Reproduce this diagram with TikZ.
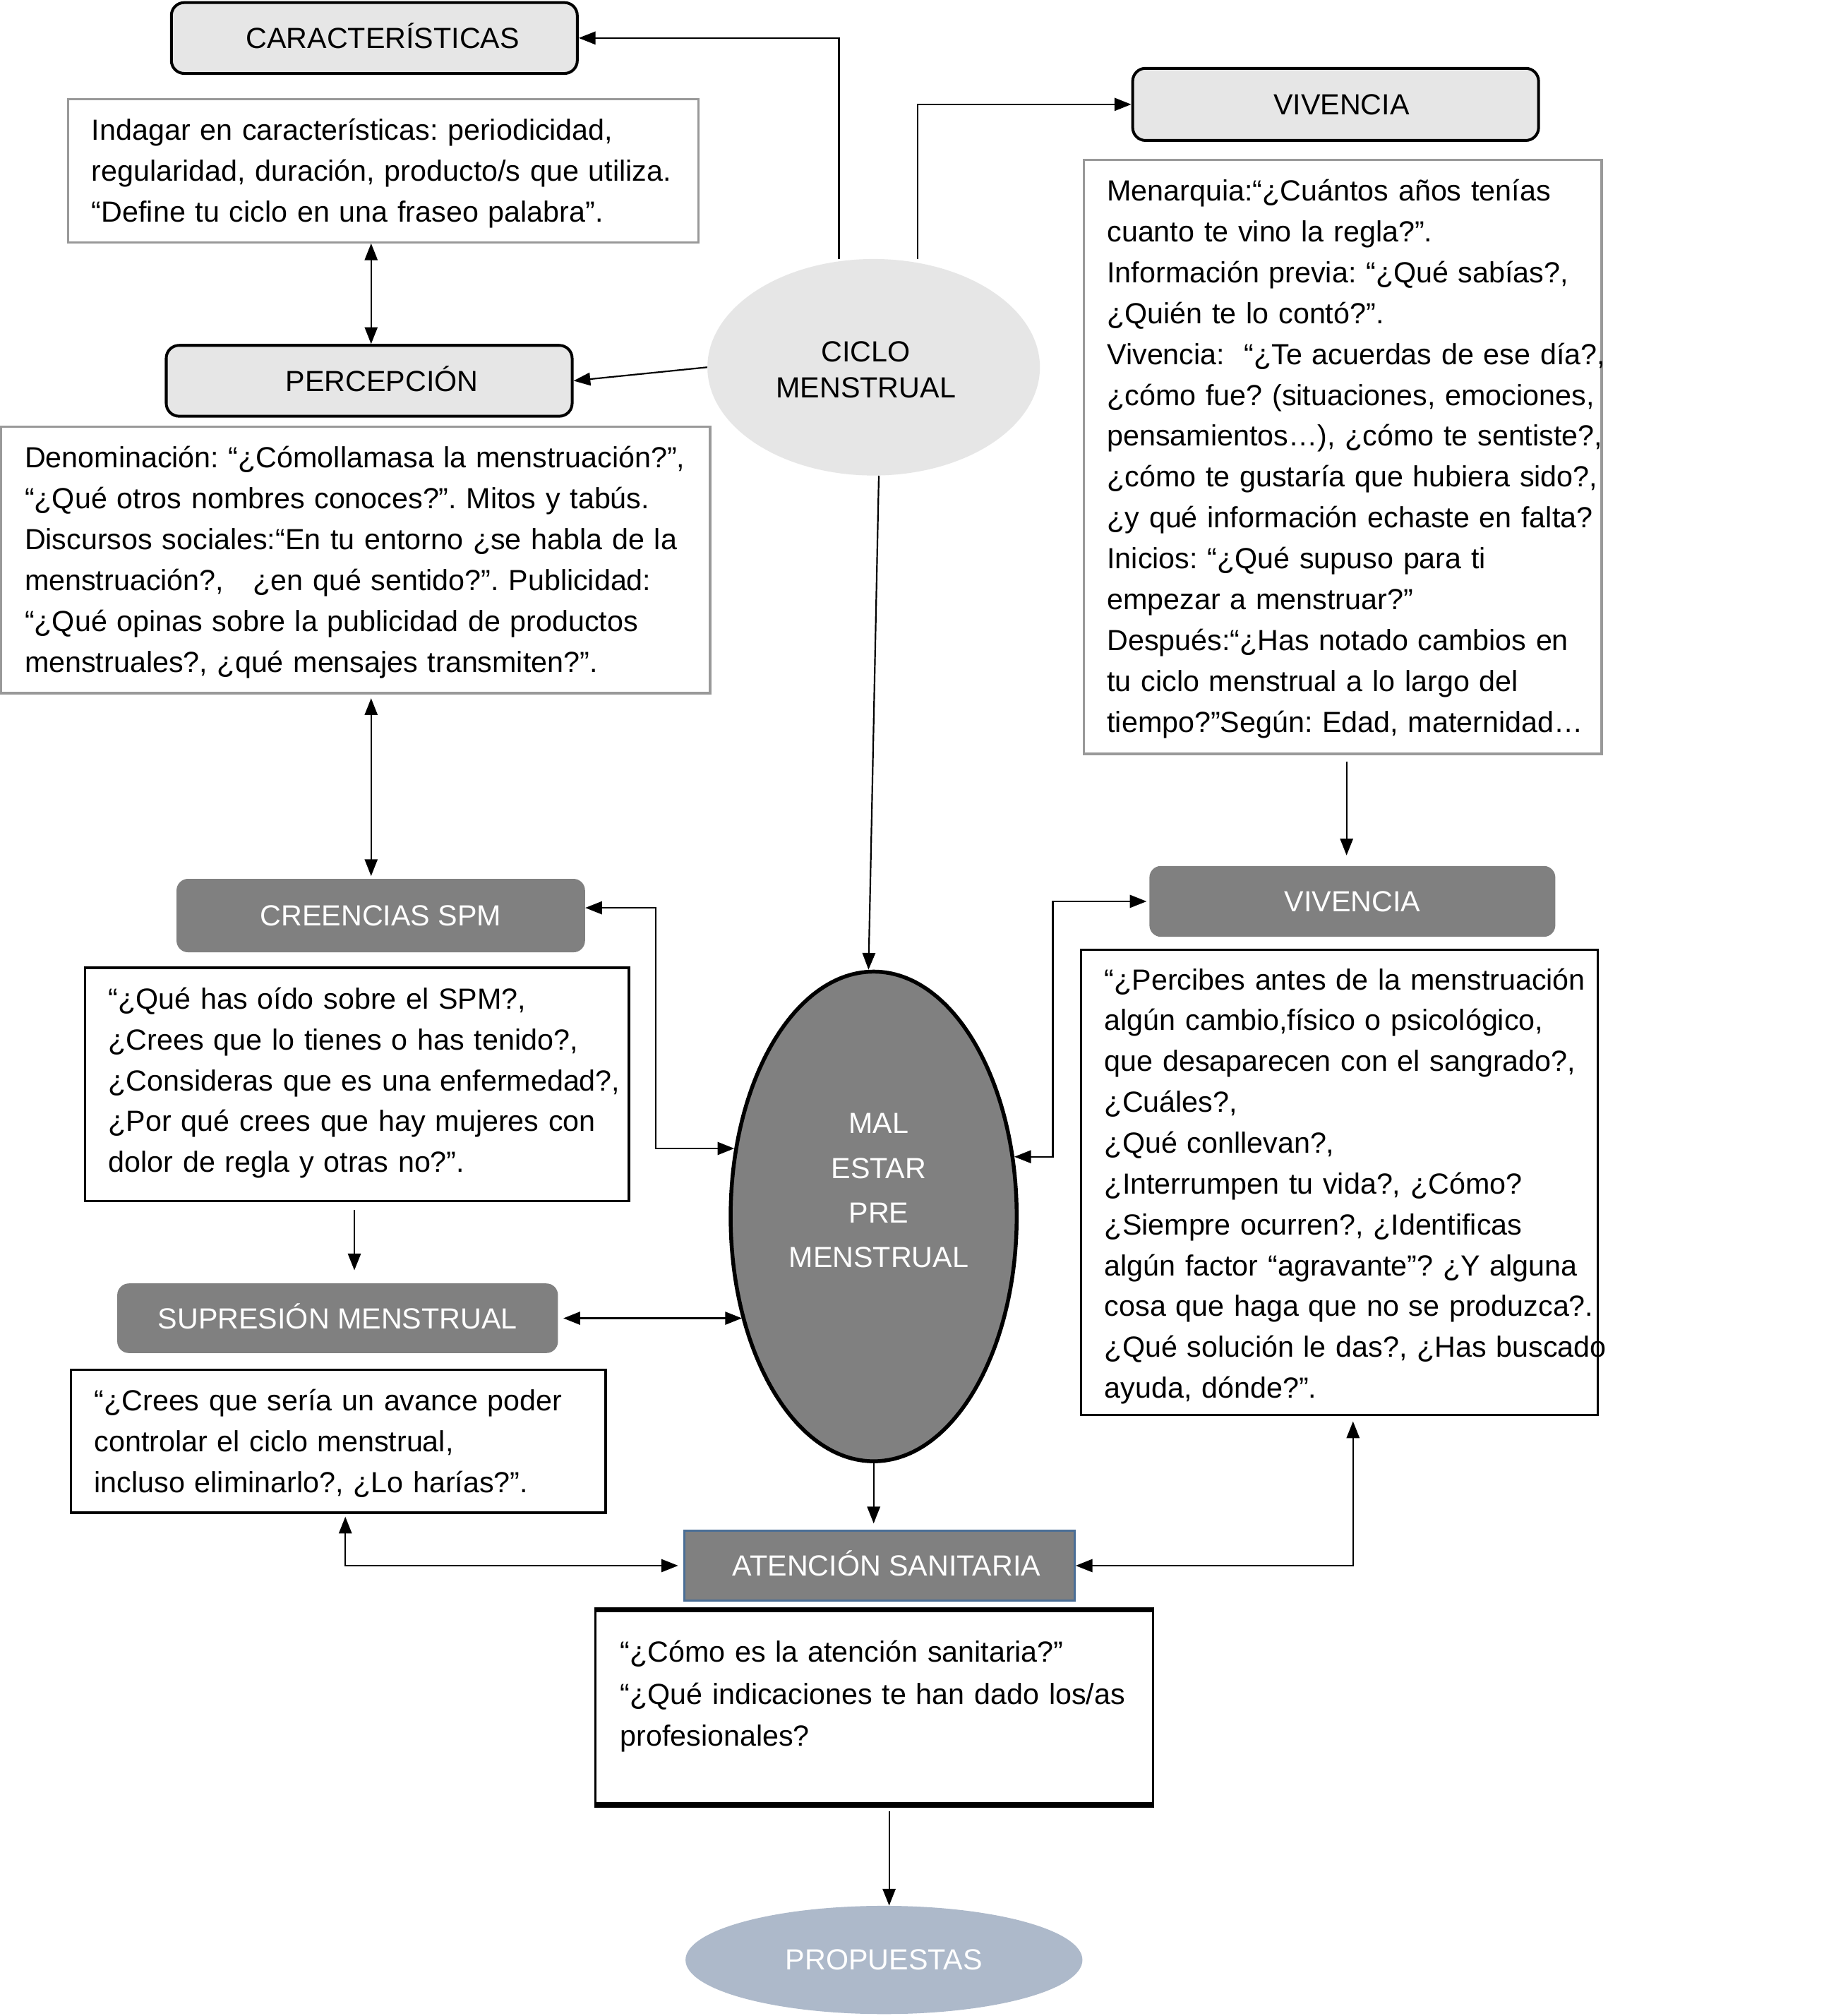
\documentclass[tikz,border=0pt]{standalone}
\usepackage{fontspec}
\setmainfont{Liberation Sans}
\usetikzlibrary{arrows.meta,shapes.geometric}
\frenchspacing
\definecolor{lgray}{HTML}{E6E6E6}
\definecolor{dgray}{HTML}{808080}
\definecolor{bgray}{HTML}{999999}
\definecolor{propc}{HTML}{ADB9CA}
\definecolor{ateb}{HTML}{4A6E96}
\tikzset{
  hdr/.style={draw=black, line width=2.2pt, fill=lgray, rounded corners=10pt, inner sep=0pt, text height=16pt, text depth=0pt},
  dkbox/.style={fill=dgray, rounded corners=9pt, inner sep=0pt, text=white, text height=16pt, text depth=0pt},
  gbox/.style={draw=bgray, line width=1.8pt, fill=white, inner sep=0pt},
  kbox/.style={draw=black, line width=2pt, fill=white, inner sep=0pt},
  body/.style={anchor=base west, align=left, inner sep=0pt, text width=600pt},
  conn/.style={line width=1.2pt, draw=black},
  arr/.style={conn, -{Triangle[length=13pt,width=10pt]}},
  dbl/.style={conn, {Triangle[length=13pt,width=10pt]}-{Triangle[length=13pt,width=10pt]}},
}
\begin{document}
\begin{tikzpicture}[x=1pt,y=-1pt,font=\fontsize{22.6pt}{31.7pt}\selectfont\frenchspacing]
\useasboundingbox (0,0) rectangle (1415,1564.5);
\fill[white] (0,0) rectangle (1415,1564.5);

% helper coordinates
\coordinate (x288) at (288,0);
\coordinate (x509) at (509,0);
\coordinate (x275) at (275,0);
\coordinate (x268) at (268,0);
\coordinate (x817) at (817,0);
\coordinate (x1045) at (1045,0);
\coordinate (x1050) at (1050,0);
\coordinate (x690) at (690,0);

% header boxes
\node[hdr, minimum width=315pt, minimum height=55pt] (car) at (290.5,29.5) {\hspace*{13pt}CARACTERÍSTICAS};
\node[hdr, minimum width=315pt, minimum height=55pt] (perc) at (286.5,295.5) {\hspace*{20pt}PERCEPCIÓN};
\node[hdr, minimum width=315pt, minimum height=56pt] (viv1) at (1036.5,81) {\hspace*{9pt}VIVENCIA};

% dark boxes
\node[dkbox, minimum width=317pt, minimum height=57pt] (cre) at (295.5,710.5) {CREENCIAS SPM};
\node[dkbox, minimum width=342pt, minimum height=54pt] (sup) at (262,1023) {SUPRESIÓN MENSTRUAL};
\node[dkbox, minimum width=315pt, minimum height=55pt] (viv2) at (1049.5,699.5) {VIVENCIA};
\node[fill=dgray, draw=ateb, line width=1.5pt, inner sep=0pt, text=white, text height=16pt, text depth=0pt,
      minimum width=303pt, minimum height=54pt] (ate) at (682.5,1215) {\hspace*{11pt}ATENCIÓN SANITARIA};

% text boxes
\node[gbox, minimum width=489pt, minimum height=111pt] (ind) at (297.5,132.5) {};
\node[body] (indt) at (71,109) {Indagar en características: periodicidad,\\regularidad, duración, producto/s que utiliza.\\“Define tu ciclo en una fraseo palabra”.};

\node[gbox, minimum width=550pt, minimum height=207pt] (den) at (276,434.5) {};
\node[body] (dent) at (19,363) {Denominación: “¿Cómollamasa la menstruación?”,\\“¿Qué otros nombres conoces?”. Mitos y tabús.\\Discursos sociales:“En tu entorno ¿se habla de la\\menstruación?,\ \ \ ¿en qué sentido?”. Publicidad:\\“¿Qué opinas sobre la publicidad de productos\\menstruales?, ¿qué mensajes transmiten?”.};

\node[kbox, minimum width=422pt, minimum height=181pt] (qbox) at (277,841.5) {};
\node[body] (qt) at (84,783) {“¿Qué has oído sobre el SPM?,\\¿Crees que lo tienes o has tenido?,\\¿Consideras que es una enfermedad?,\\¿Por qué crees que hay mujeres con\\dolor de regla y otras no?”.};

\node[kbox, minimum width=415pt, minimum height=111pt] (cbox) at (262.5,1118.5) {};
\node[body] (ct) at (73,1095) {“¿Crees que sería un avance poder\\controlar el ciclo menstrual,\\incluso eliminarlo?, ¿Lo harías?”.};

\node[gbox, minimum width=402pt, minimum height=461pt] (mbox) at (1042,354.5) {};
\node[body] (mt) at (859,156) {Menarquia:“¿Cuántos años tenías\\cuanto te vino la regla?”.\\Información previa: “¿Qué sabías?,\\¿Quién te lo contó?”.\\Vivencia:\ \ “¿Te acuerdas de ese día?,\\¿cómo fue? (situaciones, emociones,\\pensamientos…), ¿cómo te sentiste?,\\¿cómo te gustaría que hubiera sido?,\\¿y qué información echaste en falta?\\Inicios: “¿Qué supuso para ti\\empezar a menstruar?”\\Después:“¿Has notado cambios en\\tu ciclo menstrual a lo largo del\\tiempo?”Según: Edad, maternidad…};

\node[kbox, minimum width=401pt, minimum height=361pt] (pbox) at (1039.5,917.5) {};
\node[body] (pbt) at (857,768) {“¿Percibes antes de la menstruación\\algún cambio,físico o psicológico,\\que desaparecen con el sangrado?,\\¿Cuáles?,\\¿Qué conllevan?,\\¿Interrumpen tu vida?, ¿Cómo?\\¿Siempre ocurren?, ¿Identificas\\algún factor “agravante”? ¿Y alguna\\cosa que haga que no se produzca?.\\¿Qué solución le das?, ¿Has buscado\\ayuda, dónde?”.};

\node[kbox, line width=1.5pt, minimum width=433pt, minimum height=150pt] (cobox) at (678.5,1325) {};
\draw[line width=4pt] (cobox.north west) -- (cobox.north east);
\draw[line width=4pt] (cobox.south west) -- (cobox.south east);
\node[body, font=\fontsize{22.6pt}{32.5pt}\selectfont] (cot) at (481,1290) {“¿Cómo es la atención sanitaria?”\\“¿Qué indicaciones te han dado los/as\\profesionales?};

% ellipses
\node[ellipse, fill=lgray, minimum width=258pt, minimum height=168pt, inner sep=0pt] (cm) at (678,285) {};
\node[align=center, inner sep=0pt, font=\fontsize{22.6pt}{28pt}\selectfont] (cmt) at (672,287) {CICLO\\MENSTRUAL};

\node[ellipse, fill=dgray, draw=black, line width=3pt, minimum width=222pt, minimum height=380pt, inner sep=0pt] (mal) at (678,944) {};
\node[align=center, inner sep=0pt, text=white, font=\fontsize{22.6pt}{34.7pt}\selectfont] (malt) at (682,924) {MAL\\ESTAR\\PRE\\MENSTRUAL};

\node[ellipse, fill=propc, minimum width=308pt, minimum height=84pt, inner sep=0pt, text=white] (prop) at (686,1521) {PROPUESTAS};

% connectors
\draw[arr] ([xshift=-27pt]cm.north) |- (car.east);
\draw[arr] ([xshift=34pt]cm.north) |- (viv1.west);
\draw[arr] (cm.west) -- (perc.east);
\draw[dbl] (x288 |- ind.south) -- (x288 |- perc.north);
\draw[dbl, shorten <=3pt, shorten >=2pt] (x288 |- den.south) -- (x288 |- cre.north);
\draw[dbl] ([yshift=6pt]cre.east) -| (x509 |- mal.154) -- (mal.154);
\draw[arr, shorten <=6pt, shorten >=10pt] (x275 |- qbox.south) -- (x275 |- sup.north);
\draw[dbl, shorten <=4pt] (sup.east) -- (sup.east -| mal.218);
\draw[dbl, shorten <=2pt, shorten >=4pt] (x268 |- cbox.south) |- (ate.west);
\draw[arr] ([xshift=4pt]cm.south) -- ([xshift=-4pt]mal.north);
\draw[arr, shorten >=5pt] (mal.south) -- (mal.south |- ate.north);
\draw[arr, shorten <=5pt, shorten >=8pt] (x1045 |- mbox.south) -- (x1045 |- viv2.north);
\draw[dbl, shorten <=2pt] (viv2.west) -| (x817 |- mal.23) -- (mal.23);
\draw[dbl, shorten <=4pt] (x1050 |- pbox.south) |- (ate.east);
\draw[arr, shorten <=5pt] (x690 |- cobox.south) -- (x690 |- prop.north);
\end{tikzpicture}
\end{document}
